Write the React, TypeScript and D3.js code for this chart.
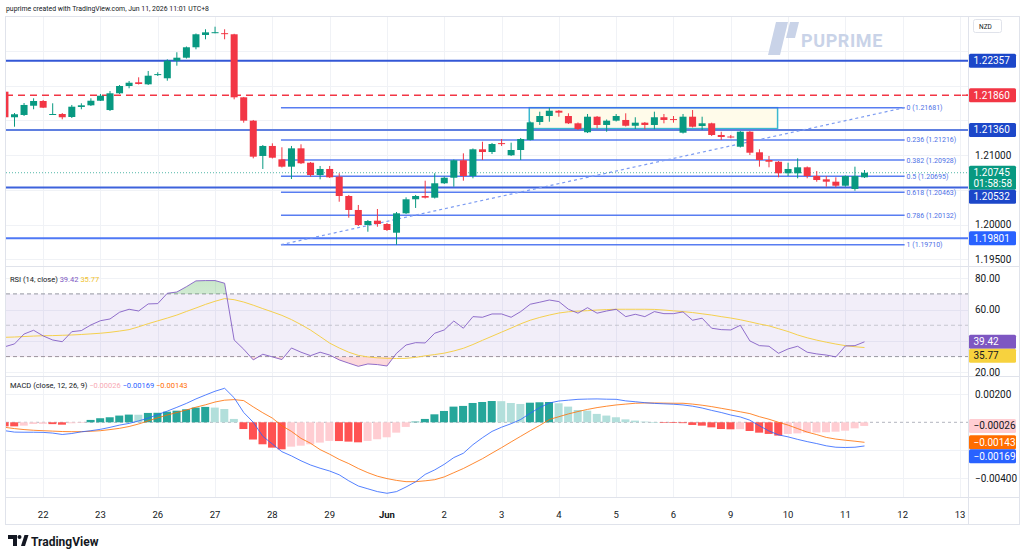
import React from 'react';
import * as d3 from 'd3';

// 4h bars, NZD pair. First bar is cut by the left edge of the pane.
const opens = [1.21911, 1.21543, 1.21576, 1.21709, 1.21777, 1.21583, 1.2159, 1.21547, 1.21691, 1.21715, 1.21781, 1.21647, 1.21888, 1.21993, 1.22046, 1.22017, 1.22158, 1.22104, 1.22357, 1.224, 1.2255, 1.22727, 1.22763, 1.22753, 1.22737, 1.2183, 1.21494, 1.20986, 1.2113, 1.20938, 1.20832, 1.21096, 1.20889, 1.20712, 1.20799, 1.20688, 1.2041, 1.20209, 1.19993, 1.20055, 1.20007, 1.19882, 1.20161, 1.20363, 1.2041, 1.20386, 1.20593, 1.20673, 1.20924, 1.20698, 1.21082, 1.21043, 1.21171, 1.20996, 1.21072, 1.21216, 1.21475, 1.21561, 1.21637, 1.21561, 1.21456, 1.21327, 1.21551, 1.21432, 1.21494, 1.21504, 1.21421, 1.21465, 1.21432, 1.21543, 1.21517, 1.21321, 1.21551, 1.21417, 1.21456, 1.21288, 1.21266, 1.21119, 1.21335, 1.21039, 1.20928, 1.20903, 1.20737, 1.20737, 1.20823, 1.20698, 1.2065, 1.20616, 1.20558, 1.20511, 1.20679];
const highs = [1.21935, 1.21604, 1.21748, 1.21816, 1.21791, 1.21744, 1.21604, 1.2172, 1.21744, 1.21816, 1.21878, 1.21921, 1.22007, 1.22065, 1.22118, 1.22209, 1.2219, 1.22377, 1.22478, 1.22561, 1.22748, 1.22809, 1.22846, 1.22809, 1.22744, 1.21835, 1.21504, 1.21144, 1.21168, 1.21111, 1.2113, 1.21154, 1.20899, 1.20842, 1.20842, 1.20737, 1.20425, 1.20281, 1.20065, 1.20223, 1.20022, 1.2018, 1.20391, 1.20425, 1.2063, 1.20737, 1.20691, 1.20935, 1.21024, 1.21094, 1.21191, 1.21173, 1.2123, 1.21177, 1.21245, 1.21482, 1.21623, 1.21681, 1.21647, 1.216, 1.21468, 1.2159, 1.21561, 1.21511, 1.2159, 1.216, 1.21543, 1.21475, 1.21623, 1.2159, 1.21561, 1.2159, 1.21647, 1.21551, 1.21465, 1.21335, 1.21288, 1.21345, 1.21345, 1.21082, 1.20986, 1.20913, 1.20889, 1.20952, 1.20835, 1.2077, 1.20698, 1.20679, 1.20705, 1.20832, 1.20784];
const lows = [1.21532, 1.21407, 1.21561, 1.21658, 1.21676, 1.21576, 1.21514, 1.21532, 1.21658, 1.21705, 1.21777, 1.21633, 1.21878, 1.2196, 1.22014, 1.22007, 1.22137, 1.22069, 1.22285, 1.22388, 1.22521, 1.22665, 1.22751, 1.22665, 1.21801, 1.21465, 1.20952, 1.20799, 1.2095, 1.2082, 1.20655, 1.2087, 1.20688, 1.2065, 1.20669, 1.20328, 1.20098, 1.19978, 1.19896, 1.19968, 1.19907, 1.1971, 1.20151, 1.20238, 1.20374, 1.20374, 1.20583, 1.20544, 1.2063, 1.20665, 1.20928, 1.21014, 1.2113, 1.20986, 1.20928, 1.21209, 1.21432, 1.21479, 1.21551, 1.21446, 1.2136, 1.21316, 1.21384, 1.21335, 1.21482, 1.2141, 1.21374, 1.2137, 1.2137, 1.21456, 1.21465, 1.21309, 1.21396, 1.2136, 1.21273, 1.21216, 1.2124, 1.21108, 1.21, 1.20832, 1.20823, 1.20679, 1.20698, 1.20665, 1.20665, 1.20616, 1.20544, 1.20535, 1.20544, 1.20486, 1.20669];
const closes = [1.21543, 1.21586, 1.2172, 1.21777, 1.21681, 1.2159, 1.21543, 1.21695, 1.21715, 1.21781, 1.21853, 1.21888, 1.21993, 1.2204, 1.22022, 1.22141, 1.22164, 1.22357, 1.224, 1.2255, 1.22737, 1.22765, 1.22767, 1.22748, 1.2183, 1.21494, 1.20976, 1.2113, 1.20961, 1.20832, 1.21096, 1.20881, 1.20712, 1.20799, 1.20679, 1.2041, 1.20209, 1.19993, 1.2005, 1.20007, 1.19921, 1.20161, 1.20363, 1.2041, 1.20386, 1.20593, 1.20673, 1.20924, 1.20698, 1.21082, 1.21043, 1.21158, 1.21166, 1.21072, 1.2123, 1.2147, 1.21561, 1.21637, 1.21609, 1.21456, 1.21374, 1.21551, 1.21432, 1.21494, 1.21561, 1.21421, 1.21465, 1.21432, 1.21543, 1.21504, 1.21511, 1.21551, 1.21407, 1.21456, 1.21288, 1.21259, 1.2126, 1.21335, 1.21033, 1.20928, 1.20903, 1.20737, 1.20799, 1.20823, 1.20698, 1.2064, 1.20616, 1.20558, 1.20698, 1.20698, 1.20745];

// RSI(14) and its moving average
const rsiValues = [36.3, 38.1, 44.4, 46.8, 43.2, 40.6, 39.5, 45.9, 46.6, 50.2, 52.9, 54, 58.3, 60.2, 59.1, 63.6, 63.8, 70.4, 71.2, 74.6, 78.3, 78.5, 78.5, 76.8, 40.6, 34.7, 27.9, 31.5, 29.8, 28.1, 35.5, 32.8, 30.6, 32.8, 31, 27.9, 25.8, 23.8, 25.3, 24.9, 24, 32.1, 37.4, 38.9, 38.7, 44.9, 47, 52.7, 48.1, 55.5, 55.1, 57.2, 57.2, 55.1, 58.7, 63.4, 64.7, 66.1, 65.1, 60.2, 57.7, 61.2, 57.7, 59.1, 60.2, 55.5, 57, 55.5, 58.7, 57.4, 57.4, 58.5, 53.2, 54.5, 48.1, 47.2, 47, 50, 40, 37, 36.6, 32.1, 34.9, 36.6, 32.8, 31.7, 31, 29.8, 36.8, 37, 39.42];
const rsiMa = [42.3, 42.5, 42.8, 43.1, 43.3, 43.4, 43.6, 43.8, 44.1, 44.5, 44.9, 45.5, 46.3, 47.2, 49, 51, 52.8, 54.6, 56.5, 58.8, 61, 63.3, 65.3, 67, 66.3, 64.8, 62.8, 60.6, 58.5, 56.3, 53.6, 50.4, 46.9, 42.8, 38.6, 35.5, 32.8, 30.8, 29.8, 29.2, 28.9, 28.8, 28.9, 29.5, 30.5, 31.3, 32.2, 33.6, 35.3, 37.7, 40.4, 43, 45.6, 48.2, 50.9, 53.2, 55, 56.5, 57.8, 58.6, 59, 59.3, 59.7, 60, 60.2, 60.2, 60.2, 60.2, 60.1, 59.7, 59.2, 58.7, 58.1, 57.3, 56.5, 55.5, 54.6, 53.5, 52.2, 50.8, 49.6, 47.8, 46, 43.8, 42, 40.5, 39.2, 38, 37, 36.3, 35.77];

// MACD(12, 26, 9), in units of 0.00001
const macdLine = [-60, -70, -71, -71, -72, -77, -87, -80, -68, -60, -50, -36, -20, -8, 10, 30, 55, 80, 107, 135, 167, 195, 222, 243, 175, 70, 0, -100, -155, -210, -240, -275, -305, -328, -348, -375, -418, -455, -475, -495, -507, -495, -462, -425, -372, -340, -300, -252, -221, -160, -110, -65, -35, -10, 20, 65, 105, 138, 152, 158, 164, 166, 167, 165, 164, 153, 147, 140, 135, 132, 129, 124, 115, 102, 85, 70, 52, 38, 15, -25, -62, -90, -104, -122, -138, -152, -168, -178, -180, -178, -169];
const signalLine = [-36, -45, -52, -57, -60, -63, -66, -67, -67, -64, -60, -52, -43, -30, -12, 10, 32, 52, 70, 88, 108, 125, 145, 158, 162, 155, 110, 68, 30, -25, -65, -115, -150, -195, -228, -265, -295, -330, -360, -385, -402, -415, -424, -424, -418, -410, -390, -360, -330, -295, -260, -220, -181, -140, -100, -60, -22, 20, 40, 60, 77, 92, 105, 115, 124, 130, 136, 138, 138, 137, 136, 136, 130, 122, 112, 100, 88, 75, 62, 40, 22, 0, -20, -45, -70, -88, -108, -120, -128, -135, -143];
const histValues = [-29, -29, -24, -12, -11, -13, -17, -7, -4, 17, 29, 36, 48, 55, 54, 67, 68, 76, 83, 93, 105, 110, 105, 95, 24, -48, -123, -157, -181, -193, -174, -167, -157, -145, -133, -134, -138, -143, -133, -121, -107, -74, -33, 5, 24, 57, 81, 112, 117, 138, 145, 152, 151, 138, 131, 140, 143, 145, 136, 112, 88, 83, 60, 48, 36, 21, 12, 5, 2, -3, -5, -6, -19, -24, -36, -48, -50, -49, -62, -74, -83, -95, -83, -79, -74, -73, -71, -67, -60, -43, -26];
const MACD_UNIT = 0.00001;

const dayLabels = ['22', '23', '26', '27', '28', '29', 'Jun', '2', '3', '4', '5', '6', '9', '10', '11', '12', '13'];
const dayBarIndex = [3, 9, 15, 21, 27, 33, 39, 45, 51, 57, 63, 69, 75, 81, 87, 93, 99];

const priceTicks = [1.195, 1.2, 1.205, 1.21, 1.215, 1.22, 1.225];
const rsiTicks = [20, 40, 60, 80];
const macdTicks = [-0.004, -0.002, 0, 0.002];

// drawings
const levelPrices = [1.22357, 1.2136, 1.20532, 1.19801];
const levelColors = ['#3357d6', '#5f7fe0', '#3d62dc', '#4f78f5'];
const levelLabelColors = ['#1c47c9', '#1c47c9', '#1c47c9', '#2962ff'];
const dashedLevel = 1.2186;
const fibRatios = ['0', '0.236', '0.382', '0.5', '0.618', '0.786', '1'];
const fibPrices = [1.21681, 1.21216, 1.20928, 1.20695, 1.20463, 1.20132, 1.1971];
const fibFromBar = 27.9;
const fibToBar = 93.2;
const boxFromBar = 53.9;
const boxToBar = 79.9;
const boxTop = 1.21681;
const boxBottom = 1.2138;
const countdown = '01:58:58';

const UP = '#089981';
const DOWN = '#f23645';
const FONT = 'Roboto, "Liberation Sans", Arial, sans-serif';

const PANE_L = 6;
const PANE_R = 968;
const MAIN = [17, 266];
const RSI = [267, 376];
const MACD = [377, 497];

type Tag = { y: number; h: number; top?: number; lines: string[]; bg: string; fg: string };

// push overlapping axis tags downward, like the price scale does
function stackTags(tags: Tag[]) {
  const sorted = [...tags].sort((a, b) => a.y - b.y);
  let bottom = -Infinity;
  sorted.forEach(t => {
    const want = t.y - 7;
    t.top = Math.max(want, bottom);
    bottom = t.top + t.h;
  });
  return sorted;
}

const fmtMinus = (s: string) => s.replace('-', '\u2212');

export default function App() {
  const chartW = 1024;
  const chartH = 558;
  const x = d3.scaleLinear().domain([-1, 99]).range([4.95, 960]);
  const bx = (i: number) => x(i - 1);
  const yP = d3.scaleLinear().domain([1.19, 1.23]).range([294, 16]);
  const yR = d3.scaleLinear().domain([30, 70]).range([356.6, 293.9]);
  const yM = d3.scaleLinear().domain([-0.004, 0.002]).range([478.3, 394.3]);

  const rsiLine = d3.line<number>().x((_, i) => bx(i)).y(v => yR(v));
  const macdPath = d3.line<number>().x((_, i) => bx(i)).y(v => yM(v * MACD_UNIT));
  const rsiArea = d3.area<number>().x((_, i) => bx(i)).y0(yR(70)).y1(v => yR(v));
  const rsiAreaLow = d3.area<number>().x((_, i) => bx(i)).y0(yR(30)).y1(v => yR(v));

  const last = closes.length - 1;
  const lastRsi = rsiValues[rsiValues.length - 1];
  const lastMa = rsiMa[rsiMa.length - 1];
  const lastMacd = macdLine[last] * MACD_UNIT;
  const lastSig = signalLine[last] * MACD_UNIT;
  const lastHist = histValues[last] * MACD_UNIT;

  const priceTags = stackTags([
    { y: yP(levelPrices[0]), h: 14, lines: [levelPrices[0].toFixed(5)], bg: levelLabelColors[0], fg: '#fff' },
    { y: yP(dashedLevel), h: 14, lines: [dashedLevel.toFixed(5)], bg: DOWN, fg: '#fff' },
    { y: yP(levelPrices[1]), h: 14, lines: [levelPrices[1].toFixed(5)], bg: levelLabelColors[1], fg: '#fff' },
    { y: yP(closes[last]), h: 24, lines: [closes[last].toFixed(5), countdown], bg: UP, fg: '#fff' },
    { y: yP(levelPrices[2]), h: 14, lines: [levelPrices[2].toFixed(5)], bg: levelLabelColors[2], fg: '#fff' },
    { y: yP(levelPrices[3]), h: 14, lines: [levelPrices[3].toFixed(5)], bg: levelLabelColors[3], fg: '#fff' },
  ]);
  const rsiTags = stackTags([
    { y: yR(lastRsi), h: 14, lines: [lastRsi.toFixed(2)], bg: '#7e57c2', fg: '#fff' },
    { y: yR(lastMa), h: 14, lines: [lastMa.toFixed(2)], bg: '#f7d23e', fg: '#131722' },
  ]);
  const macdTags = stackTags([
    { y: yM(lastHist), h: 14, lines: [fmtMinus(lastHist.toFixed(5))], bg: '#ffcdd2', fg: '#131722' },
    { y: yM(lastSig), h: 14, lines: [fmtMinus(lastSig.toFixed(5))], bg: '#ff6d00', fg: '#fff' },
    { y: yM(lastMacd), h: 14, lines: [fmtMinus(lastMacd.toFixed(5))], bg: '#2962ff', fg: '#fff' },
  ]);

  const hiddenBy = (y: number, tags: Tag[]) => tags.some(t => y > (t.top as number) - 5 && y < (t.top as number) + t.h + 5);

  const histColor = (i: number) => {
    const v = histValues[i];
    const prev = i > 0 ? histValues[i - 1] : v;
    if (v >= 0) return v >= prev ? '#26a69a' : '#b2dfdb';
    return v <= prev ? '#ff5252' : '#ffcdd2';
  };

  const renderTags = (tags: Tag[]) =>
    tags.map((t, k) => (
      <g key={k}>
        <rect x={969} y={t.top} width={47} height={t.h} fill={t.bg} rx={1.5} />
        {t.lines.map((s, j) => (
          <text key={j} x={973.5} y={(t.top as number) + 10.5 + j * 11} fontSize={10} fill={t.fg}>{s}</text>
        ))}
      </g>
    ));

  return (
    <div style={{ position: 'absolute', left: 0, top: 0 }}>
      <svg width={chartW} height={chartH} style={{ display: 'block', fontFamily: FONT }}>
        <defs>
          <clipPath id="mainClip"><rect x={PANE_L} y={MAIN[0]} width={PANE_R - PANE_L} height={MAIN[1] - MAIN[0]} /></clipPath>
          <clipPath id="rsiClip"><rect x={PANE_L} y={RSI[0]} width={PANE_R - PANE_L} height={RSI[1] - RSI[0]} /></clipPath>
          <clipPath id="macdClip"><rect x={PANE_L} y={MACD[0]} width={PANE_R - PANE_L} height={MACD[1] - MACD[0]} /></clipPath>
          <clipPath id="above70"><rect x={PANE_L} y={RSI[0]} width={PANE_R - PANE_L} height={yR(70) - RSI[0]} /></clipPath>
          <clipPath id="below30"><rect x={PANE_L} y={yR(30)} width={PANE_R - PANE_L} height={RSI[1] - yR(30)} /></clipPath>
          <linearGradient id="obGrad" x1="0" y1="0" x2="0" y2="1">
            <stop offset="0" stopColor="#4caf50" stopOpacity={0.3} />
            <stop offset="1" stopColor="#4caf50" stopOpacity={0.03} />
          </linearGradient>
          <linearGradient id="osGrad" x1="0" y1="0" x2="0" y2="1">
            <stop offset="0" stopColor="#f23645" stopOpacity={0.03} />
            <stop offset="1" stopColor="#f23645" stopOpacity={0.2} />
          </linearGradient>
        </defs>

        <rect width={chartW} height={chartH} fill="#fff" />
        <text x={6} y={11} fontSize={6.9} fill="#131722">puprime created with TradingView.com, Jun 11, 2026 11:01 UTC+8</text>

        {/* grid */}
        {dayBarIndex.map((b, k) => (
          <line key={k} x1={Math.round(x(b)) + 0.5} x2={Math.round(x(b)) + 0.5} y1={MAIN[0]} y2={MACD[1]} stroke="#f0f2f6" />
        ))}
        {priceTicks.map(p => (
          <line key={p} x1={PANE_L} x2={PANE_R} y1={Math.round(yP(p)) + 0.5} y2={Math.round(yP(p)) + 0.5} stroke="#f0f2f6" />
        ))}
        {rsiTicks.map(v => (
          <line key={v} x1={PANE_L} x2={PANE_R} y1={Math.round(yR(v)) + 0.5} y2={Math.round(yR(v)) + 0.5} stroke="#f0f2f6" />
        ))}
        {macdTicks.filter(v => v !== 0).map(v => (
          <line key={v} x1={PANE_L} x2={PANE_R} y1={Math.round(yM(v)) + 0.5} y2={Math.round(yM(v)) + 0.5} stroke="#f0f2f6" />
        ))}

        {/* main pane */}
        <g clipPath="url(#mainClip)">
          <rect x={x(boxFromBar)} y={yP(boxTop)} width={x(boxToBar) - x(boxFromBar)} height={yP(boxBottom) - yP(boxTop)}
            fill="#fffbea" stroke="#3cb9cf" strokeWidth={1.5} />
          {levelPrices.map((p, k) => (
            <line key={p} x1={PANE_L} x2={PANE_R} y1={yP(p)} y2={yP(p)} stroke={levelColors[k]} strokeWidth={2} />
          ))}
          <line x1={PANE_L} x2={PANE_R} y1={yP(dashedLevel)} y2={yP(dashedLevel)} stroke={DOWN} strokeWidth={1.3} strokeDasharray="7 5" />
          {fibPrices.map((p, k) => (
            <line key={k} x1={x(fibFromBar)} x2={x(fibToBar)} y1={yP(p)} y2={yP(p)} stroke="#3b66ee" strokeOpacity={0.85} strokeWidth={1.5} />
          ))}
          <line x1={x(fibFromBar)} y1={yP(fibPrices[6])} x2={x(fibToBar)} y2={yP(fibPrices[0])} stroke="#7d9cf2" strokeWidth={1.2} strokeDasharray="3 3" />
          <line x1={PANE_L} x2={PANE_R} y1={yP(closes[last])} y2={yP(closes[last])} stroke={UP} strokeOpacity={0.7} strokeDasharray="1 2" />
          {closes.map((c, i) => {
            const o = opens[i];
            const col = c >= o ? UP : DOWN;
            const cx = bx(i);
            const top = yP(Math.max(o, c));
            const h = Math.max(1, yP(Math.min(o, c)) - top);
            return (
              <g key={i}>
                <line x1={cx} x2={cx} y1={yP(highs[i])} y2={yP(lows[i])} stroke={col} strokeWidth={1} />
                <rect x={cx - 3.5} y={top} width={7} height={h} fill={col} />
              </g>
            );
          })}
          {fibPrices.map((p, k) => (
            <text key={k} x={x(fibToBar) + 2} y={yP(p) + 2.5} fontSize={7} fill="#4d70e6">{`${fibRatios[k]} (${p.toFixed(5)})`}</text>
          ))}
        </g>

        {/* watermark */}
        <g fill="#c9d3e8">
          <path d="M776 22 L788 22 L780 55 L768 55 Z" />
          <path d="M790 22 L799 22 L795 38 L786 38 Z" />
          <text x={801} y={47} fontSize={18} fontWeight={700} letterSpacing={0.6}>PUPRIME</text>
        </g>

        {/* RSI pane */}
        <g clipPath="url(#rsiClip)">
          <rect x={PANE_L} y={yR(70)} width={PANE_R - PANE_L} height={yR(30) - yR(70)} fill="#7e57c2" fillOpacity={0.1} />
          <line x1={PANE_L} x2={PANE_R} y1={yR(70)} y2={yR(70)} stroke="#9598a1" strokeDasharray="4 3" />
          <line x1={PANE_L} x2={PANE_R} y1={yR(50)} y2={yR(50)} stroke="#b2b5be" strokeOpacity={0.7} strokeDasharray="4 3" />
          <line x1={PANE_L} x2={PANE_R} y1={yR(30)} y2={yR(30)} stroke="#9598a1" strokeDasharray="4 3" />
          <path d={rsiArea(rsiValues) || ''} fill="url(#obGrad)" clipPath="url(#above70)" />
          <path d={rsiAreaLow(rsiValues) || ''} fill="url(#osGrad)" clipPath="url(#below30)" />
          <path d={rsiLine(rsiMa) || ''} fill="none" stroke="#f5d04e" strokeWidth={1} />
          <path d={rsiLine(rsiValues) || ''} fill="none" stroke="#7e57c2" strokeOpacity={0.85} strokeWidth={1} />
        </g>
        <text x={10} y={282} fontSize={7.5} fill="#131722">
          RSI (14, close) <tspan fill="#7e57c2">{lastRsi.toFixed(2)}</tspan> <tspan fill="#f0c22c">{lastMa.toFixed(2)}</tspan>
        </text>

        {/* MACD pane */}
        <g clipPath="url(#macdClip)">
          <line x1={PANE_L} x2={PANE_R} y1={yM(0)} y2={yM(0)} stroke="#b2b5be" strokeDasharray="3 3" />
          {histValues.map((v, i) => {
            const y0 = yM(0);
            const y1 = yM(v * MACD_UNIT);
            return (
              <rect key={i} x={bx(i) - 4.3} width={8} y={Math.min(y0, y1)} height={Math.max(0.6, Math.abs(y1 - y0))} fill={histColor(i)} />
            );
          })}
          <path d={macdPath(signalLine) || ''} fill="none" stroke="#ff6d00" strokeOpacity={0.8} strokeWidth={1} />
          <path d={macdPath(macdLine) || ''} fill="none" stroke="#2962ff" strokeOpacity={0.8} strokeWidth={1} />
        </g>
        <text x={10} y={388} fontSize={7.5} fill="#131722">
          MACD (close, 12, 26, 9) <tspan fill="#f7a9b3">{fmtMinus(lastHist.toFixed(5))}</tspan>{' '}
          <tspan fill="#2962ff">{fmtMinus(lastMacd.toFixed(5))}</tspan>{' '}
          <tspan fill="#ff6d00">{fmtMinus(lastSig.toFixed(5))}</tspan>
        </text>

        {/* separators and frame */}
        <line x1={5.5} x2={1019.5} y1={MAIN[1] + 0.5} y2={MAIN[1] + 0.5} stroke="#e0e3eb" />
        <line x1={5.5} x2={1019.5} y1={RSI[1] + 0.5} y2={RSI[1] + 0.5} stroke="#e0e3eb" />
        <line x1={5.5} x2={1019.5} y1={MACD[1] + 0.5} y2={MACD[1] + 0.5} stroke="#e0e3eb" />
        <line x1={PANE_R + 0.5} x2={PANE_R + 0.5} y1={16.5} y2={524.5} stroke="#e0e3eb" />
        <rect x={5.5} y={16.5} width={1014} height={508} fill="none" stroke="#e0e3eb" />

        {/* right axis */}
        <rect x={973.5} y={19.5} width={28} height={13} rx={2} fill="#fff" stroke="#e0e3eb" />
        <text x={979} y={28.5} fontSize={6.5} fill="#131722">NZD</text>
        {priceTicks.filter(p => !hiddenBy(yP(p), priceTags)).map(p => (
          <text key={p} x={975} y={yP(p) + 3.5} fontSize={10} fill="#131722">{p.toFixed(5)}</text>
        ))}
        <line x1={962} x2={968} y1={yP(dashedLevel)} y2={yP(dashedLevel)} stroke={DOWN} strokeWidth={1.3} />
        {renderTags(priceTags)}
        {rsiTicks.filter(v => !hiddenBy(yR(v), rsiTags)).map(v => (
          <text key={v} x={975} y={yR(v) + 3.5} fontSize={10} fill="#131722">{v.toFixed(2)}</text>
        ))}
        {renderTags(rsiTags)}
        {macdTicks.filter(v => !hiddenBy(yM(v), macdTags)).map(v => (
          <text key={v} x={975} y={yM(v) + 3.5} fontSize={10} fill="#131722">{fmtMinus(v.toFixed(5))}</text>
        ))}
        {renderTags(macdTags)}

        {/* time axis */}
        {dayLabels.map((d, k) => (
          <text key={k} x={x(dayBarIndex[k])} y={518} fontSize={9.5} textAnchor="middle" fill="#131722" fontWeight={d === 'Jun' ? 700 : 400}>{d}</text>
        ))}

        {/* TradingView logo */}
        <g fill="#131722">
          <path d="M8 535 h9 v11 h-4 v-7 h-5 z" />
          <circle cx={19.5} cy={537} r={2} />
          <path d="M21 546 l3.5 -11 h4 l-3.5 11 z" />
          <text x={31} y={546} fontSize={12} fontWeight={700}>TradingView</text>
        </g>
      </svg>
    </div>
  );
}
